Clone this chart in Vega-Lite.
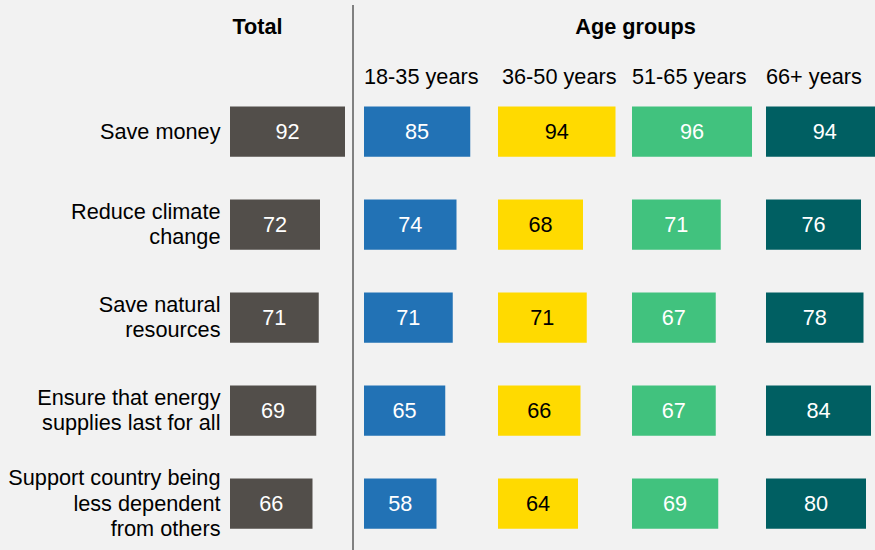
{
  "$schema": "https://vega.github.io/schema/vega-lite/v6.json",
  "autosize": "none",
  "padding": {"left": 230, "top": 5, "right": 0, "bottom": 0},
  "width": 645,
  "height": 545,
  "background": "#f2f2f2",
  "config": {
    "font": "Liberation Sans",
    "view": {"stroke": null},
    "axisY": {
      "domain": false, "ticks": false, "grid": false, "title": null,
      "labelPadding": 10, "labelFontSize": 21.7, "labelColor": "#000000",
      "labelLimit": 0, "labelLineHeight": 25.5, "labelAlign": "right", "labelBaseline": "middle",
      "labelOffset": {"condition": [{"test": "datum.value == 'Support country being less dependent from others'", "value": -25.5}, {"test": "datum.value != 'Save money'", "value": -12.75}], "value": 0},
      "labelExpr": "datum.value == 'Reduce climate change' ? ['Reduce climate','change'] : datum.value == 'Save natural resources' ? ['Save natural','resources'] : datum.value == 'Ensure that energy supplies last for all' ? ['Ensure that energy','supplies last for all'] : datum.value == 'Support country being less dependent from others' ? ['Support country being','less dependent','from others'] : datum.value"
    }
  },
  "data": {"values": [
    {"item": "Save money", "group": "Total", "value": 92},
    {"item": "Save money", "group": "18-35 years", "value": 85},
    {"item": "Save money", "group": "36-50 years", "value": 94},
    {"item": "Save money", "group": "51-65 years", "value": 96},
    {"item": "Save money", "group": "66+ years", "value": 94},
    {"item": "Reduce climate change", "group": "Total", "value": 72},
    {"item": "Reduce climate change", "group": "18-35 years", "value": 74},
    {"item": "Reduce climate change", "group": "36-50 years", "value": 68},
    {"item": "Reduce climate change", "group": "51-65 years", "value": 71},
    {"item": "Reduce climate change", "group": "66+ years", "value": 76},
    {"item": "Save natural resources", "group": "Total", "value": 71},
    {"item": "Save natural resources", "group": "18-35 years", "value": 71},
    {"item": "Save natural resources", "group": "36-50 years", "value": 71},
    {"item": "Save natural resources", "group": "51-65 years", "value": 67},
    {"item": "Save natural resources", "group": "66+ years", "value": 78},
    {"item": "Ensure that energy supplies last for all", "group": "Total", "value": 69},
    {"item": "Ensure that energy supplies last for all", "group": "18-35 years", "value": 65},
    {"item": "Ensure that energy supplies last for all", "group": "36-50 years", "value": 66},
    {"item": "Ensure that energy supplies last for all", "group": "51-65 years", "value": 67},
    {"item": "Ensure that energy supplies last for all", "group": "66+ years", "value": 84},
    {"item": "Support country being less dependent from others", "group": "Total", "value": 66},
    {"item": "Support country being less dependent from others", "group": "18-35 years", "value": 58},
    {"item": "Support country being less dependent from others", "group": "36-50 years", "value": 64},
    {"item": "Support country being less dependent from others", "group": "51-65 years", "value": 69},
    {"item": "Support country being less dependent from others", "group": "66+ years", "value": 80}
  ]},
  "resolve": {"scale": {"x": "independent"}, "axis": {"x": "independent"}},
  "layer": [
    {
      "mark": {"type": "point", "opacity": 0},
      "encoding": {
        "x": {"field": "group", "type": "nominal",
          "scale": {"type": "band", "domain": ["Total", "18-35 years", "36-50 years", "51-65 years", "66+ years"], "range": [0, 670], "paddingInner": 0, "paddingOuter": 0},
          "axis": {"orient": "top", "domain": false, "ticks": false, "grid": false,
            "labelFontSize": 21.7, "labelColor": "#000000", "labelBaseline": "middle", "labelBound": false, "labelOverlap": false, "labelFlush": false, "labelLimit": 0, "labelAngle": 0,
            "labelAlign": {"condition": {"test": "datum.value == 'Total'", "value": "center"}, "value": "left"},
            "labelOffset": {"condition": [{"test": "datum.value == 'Total'", "value": -39.5}, {"test": "datum.value == '36-50 years'", "value": -63}], "value": -67},
            "labelPadding": {"condition": {"test": "datum.value == 'Total'", "value": -21}, "value": -71},
            "labelFontWeight": {"condition": {"test": "datum.value == 'Total'", "value": "bold"}, "value": "normal"},
            "title": "Age groups", "titleX": 405, "titleY": 21, "titleAlign": "center", "titleBaseline": "middle", "titleAngle": 0,
            "titleFontSize": 21.7, "titleFontWeight": "bold", "titleColor": "#000000"}
        }
      }
    },
    {
      "mark": {"type": "rule", "color": "#808080", "strokeWidth": 1},
      "encoding": {"x": {"datum": 98.4, "type": "quantitative", "scale": {"domain": [0, 516], "nice": false, "zero": false}, "axis": null}}
    },
    {
      "transform": [{"filter": "datum.group == 'Total'"}],
      "mark": {"type": "bar", "color": "#524e4a"},
      "encoding": {
        "y": {"field": "item", "type": "nominal", "sort": null, "scale": {"paddingInner": 0.46, "paddingOuter": 0.66, "align": 0.826}},
        "x": {"field": "value", "type": "quantitative", "scale": {"domain": [0, 516], "nice": false, "zero": false}, "axis": null},
        "x2": {"datum": 0}
      }
    },
    {
      "transform": [{"filter": "datum.group == '18-35 years'"}],
      "mark": {"type": "bar", "color": "#2272b5"},
      "encoding": {
        "y": {"field": "item", "type": "nominal", "sort": null, "scale": {"paddingInner": 0.46, "paddingOuter": 0.66, "align": 0.826}},
        "x": {"field": "value", "type": "quantitative", "scale": {"domain": [-107.2, 408.8], "nice": false, "zero": false}, "axis": null},
        "x2": {"datum": 0}
      }
    },
    {
      "transform": [{"filter": "datum.group == '36-50 years'"}],
      "mark": {"type": "bar", "color": "#ffda00"},
      "encoding": {
        "y": {"field": "item", "type": "nominal", "sort": null, "scale": {"paddingInner": 0.46, "paddingOuter": 0.66, "align": 0.826}},
        "x": {"field": "value", "type": "quantitative", "scale": {"domain": [-214.4, 301.6], "nice": false, "zero": false}, "axis": null},
        "x2": {"datum": 0}
      }
    },
    {
      "transform": [{"filter": "datum.group == '51-65 years'"}],
      "mark": {"type": "bar", "color": "#41c27e"},
      "encoding": {
        "y": {"field": "item", "type": "nominal", "sort": null, "scale": {"paddingInner": 0.46, "paddingOuter": 0.66, "align": 0.826}},
        "x": {"field": "value", "type": "quantitative", "scale": {"domain": [-321.6, 194.4], "nice": false, "zero": false}, "axis": null},
        "x2": {"datum": 0}
      }
    },
    {
      "transform": [{"filter": "datum.group == '66+ years'"}],
      "mark": {"type": "bar", "color": "#005f62"},
      "encoding": {
        "y": {"field": "item", "type": "nominal", "sort": null, "scale": {"paddingInner": 0.46, "paddingOuter": 0.66, "align": 0.826}},
        "x": {"field": "value", "type": "quantitative", "scale": {"domain": [-428.8, 87.2], "nice": false, "zero": false}, "axis": null},
        "x2": {"datum": 0}
      }
    },
    {
      "transform": [{"filter": "datum.group == 'Total'"}],
      "mark": {"type": "text", "color": "#ffffff", "fontSize": 21.7, "align": "center", "baseline": "middle"},
      "encoding": {
        "y": {"field": "item", "type": "nominal", "sort": null, "scale": {"paddingInner": 0.46, "paddingOuter": 0.66, "align": 0.826}},
        "x": {"field": "value", "type": "quantitative", "scale": {"domain": [0, 1032], "nice": false, "zero": false}, "axis": null},
        "text": {"field": "value", "type": "quantitative"}
      }
    },
    {
      "transform": [{"filter": "datum.group == '18-35 years'"}],
      "mark": {"type": "text", "color": "#ffffff", "fontSize": 21.7, "align": "center", "baseline": "middle"},
      "encoding": {
        "y": {"field": "item", "type": "nominal", "sort": null, "scale": {"paddingInner": 0.46, "paddingOuter": 0.66, "align": 0.826}},
        "x": {"field": "value", "type": "quantitative", "scale": {"domain": [-214.4, 817.6], "nice": false, "zero": false}, "axis": null},
        "text": {"field": "value", "type": "quantitative"}
      }
    },
    {
      "transform": [{"filter": "datum.group == '36-50 years'"}],
      "mark": {"type": "text", "color": "#000000", "fontSize": 21.7, "align": "center", "baseline": "middle"},
      "encoding": {
        "y": {"field": "item", "type": "nominal", "sort": null, "scale": {"paddingInner": 0.46, "paddingOuter": 0.66, "align": 0.826}},
        "x": {"field": "value", "type": "quantitative", "scale": {"domain": [-428.8, 603.2], "nice": false, "zero": false}, "axis": null},
        "text": {"field": "value", "type": "quantitative"}
      }
    },
    {
      "transform": [{"filter": "datum.group == '51-65 years'"}],
      "mark": {"type": "text", "color": "#ffffff", "fontSize": 21.7, "align": "center", "baseline": "middle"},
      "encoding": {
        "y": {"field": "item", "type": "nominal", "sort": null, "scale": {"paddingInner": 0.46, "paddingOuter": 0.66, "align": 0.826}},
        "x": {"field": "value", "type": "quantitative", "scale": {"domain": [-643.2, 388.8], "nice": false, "zero": false}, "axis": null},
        "text": {"field": "value", "type": "quantitative"}
      }
    },
    {
      "transform": [{"filter": "datum.group == '66+ years'"}],
      "mark": {"type": "text", "color": "#ffffff", "fontSize": 21.7, "align": "center", "baseline": "middle"},
      "encoding": {
        "y": {"field": "item", "type": "nominal", "sort": null, "scale": {"paddingInner": 0.46, "paddingOuter": 0.66, "align": 0.826}},
        "x": {"field": "value", "type": "quantitative", "scale": {"domain": [-857.6, 174.4], "nice": false, "zero": false}, "axis": null},
        "text": {"field": "value", "type": "quantitative"}
      }
    }
  ]
}
